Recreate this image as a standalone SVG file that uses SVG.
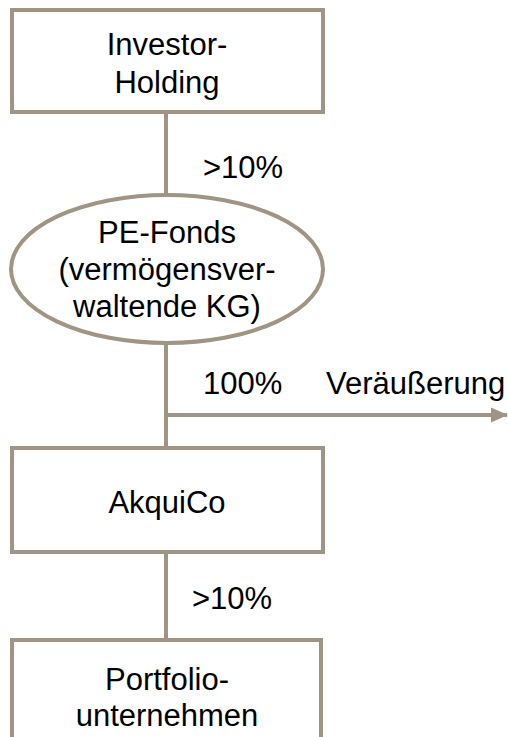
<svg xmlns="http://www.w3.org/2000/svg" width="508" height="737" viewBox="0 0 508 737">
<style>
.n{fill:#ffffff;stroke:#A09585;stroke-width:4}
.c{stroke:#A09585;stroke-width:4;fill:none}
text{font-family:"Liberation Sans",Arial,sans-serif;font-size:31px;fill:#000000}
.m{text-anchor:middle}
</style>
<defs>
<marker id="ah" markerUnits="userSpaceOnUse" markerWidth="18" markerHeight="18" refX="16" refY="9" orient="auto">
<path d="M0,1.5 L17,9 L0,16.5 Z" fill="#A09585"/>
</marker>
</defs>
<rect width="508" height="737" fill="#ffffff"/>
<g id="connectors">
<line class="c" x1="166" y1="112" x2="166" y2="195"/>
<line class="c" x1="166" y1="343" x2="166" y2="448"/>
<line class="c" x1="166" y1="415" x2="507" y2="415" marker-end="url(#ah)"/>
<line class="c" x1="166" y1="552" x2="166" y2="640"/>
<text x="203" y="178">&gt;10%</text>
<text x="203" y="394">100%</text>
<text x="326" y="394">Veräußerung</text>
<text x="192" y="609">&gt;10%</text>
</g>
<g id="investor-holding">
<rect class="n" x="12" y="10" width="311" height="102"/>
<text class="m" x="167" y="55">Investor-</text>
<text class="m" x="167" y="93">Holding</text>
</g>
<g id="pe-fonds">
<ellipse class="n" cx="167" cy="269" rx="156" ry="74"/>
<text class="m" x="167" y="243">PE-Fonds</text>
<text class="m" x="167" y="280">(vermögensver-</text>
<text class="m" x="167" y="317">waltende KG)</text>
</g>
<g id="akquico">
<rect class="n" x="12" y="448" width="311" height="104"/>
<text class="m" x="167" y="513">AkquiCo</text>
</g>
<g id="portfolio">
<rect class="n" x="12" y="640" width="309" height="120"/>
<text class="m" x="167" y="690">Portfolio-</text>
<text class="m" x="167" y="726">unternehmen</text>
</g>
</svg>
